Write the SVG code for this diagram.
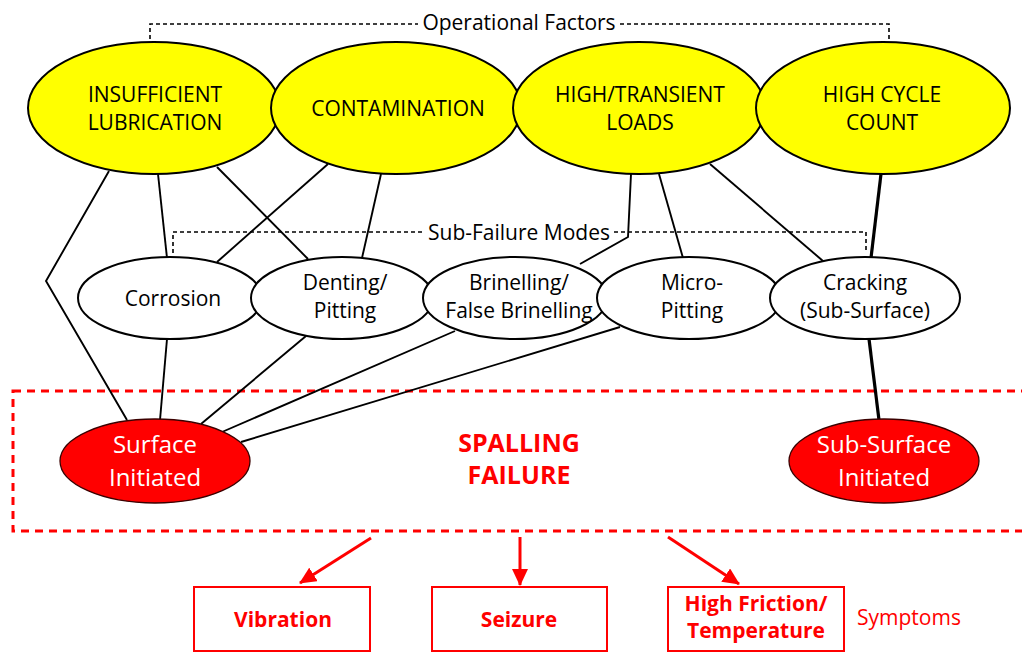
<svg xmlns="http://www.w3.org/2000/svg" width="1022" height="652" viewBox="0 0 1022 652">
<style>
  .factor { fill: #ffff00; stroke: #000; stroke-width: 2; }
  .mode { fill: #fff; stroke: #000; stroke-width: 2; }
  .init { fill: #ff0000; stroke: #3a0000; stroke-width: 1.3; }
  .lbl { font-family: "Open Sans", "Liberation Sans", sans-serif; font-size: 21px; fill: #000; text-anchor: middle; }
  .wlbl { font-family: "Open Sans", "Liberation Sans", sans-serif; font-size: 24px; fill: #fff; text-anchor: middle; }
  .rb { font-family: "Open Sans", "Liberation Sans", sans-serif; font-weight: bold; fill: #ff0000; text-anchor: middle; }
  .conn { stroke: #000; stroke-width: 1.9; fill: none; }
  .thick { stroke: #000; stroke-width: 3.2; fill: none; }
  .grp { stroke: #000; stroke-width: 1.6; fill: none; stroke-dasharray: 4 3; }
  .box { fill: #fff; stroke: #ff0000; stroke-width: 2; }
  .arrow { stroke: #ff0000; stroke-width: 3; fill: none; }
</style>
<defs>
  <marker id="ah" markerUnits="userSpaceOnUse" markerWidth="17" markerHeight="16" refX="16" refY="8" orient="auto">
    <path d="M0,0 L17,8 L0,16 z" fill="#ff0000"/>
  </marker>
</defs>
<rect width="1022" height="652" fill="#fff"/>

<!-- Spalling failure region -->
<g id="spalling-region">
  <rect x="13" y="391" width="1030" height="140" fill="none" stroke="#ff0000" stroke-width="3" stroke-dasharray="8 6"/>
  <text class="rb" x="519" y="452" font-size="25">SPALLING</text>
  <text class="rb" x="519" y="484" font-size="25">FAILURE</text>
</g>

<!-- Group labels -->
<g id="group-operational">
  <polyline class="grp" points="150,39 150,24 418,24"/>
  <polyline class="grp" points="620,24 889,24 889,39"/>
  <text class="lbl" x="519" y="30">Operational Factors</text>
</g>
<g id="group-subfailure">
  <polyline class="grp" points="173,253 173,232 424,232"/>
  <polyline class="grp" points="614,232 866,232 866,253"/>
  <text class="lbl" x="519" y="240">Sub-Failure Modes</text>
</g>

<!-- Connectors -->
<g id="connectors">
  <polyline class="conn" points="109,171 46,281 127,420"/>
  <line class="conn" x1="158" y1="174" x2="167" y2="258"/>
  <line class="conn" x1="217" y1="167" x2="308" y2="259"/>
  <line class="conn" x1="328" y1="164" x2="217" y2="262"/>
  <line class="conn" x1="381" y1="174" x2="362" y2="258"/>
  <polyline class="conn" points="631,174 628,237 580,264"/>
  <line class="conn" x1="659" y1="174" x2="683" y2="258"/>
  <line class="conn" x1="710" y1="164" x2="823" y2="261"/>
  <line class="thick" x1="881" y1="174" x2="871" y2="258"/>
  <line class="thick" x1="869" y1="339" x2="879" y2="420"/>
  <line class="conn" x1="167" y1="339" x2="160" y2="420"/>
  <line class="conn" x1="306" y1="336" x2="201" y2="424"/>
  <line class="conn" x1="455" y1="331" x2="222" y2="432"/>
  <line class="conn" x1="620" y1="327" x2="241" y2="442"/>
  <line class="arrow" x1="371" y1="538" x2="300" y2="583" marker-end="url(#ah)"/>
  <line class="arrow" x1="520" y1="537" x2="520" y2="585" marker-end="url(#ah)"/>
  <line class="arrow" x1="668" y1="537" x2="739" y2="584" marker-end="url(#ah)"/>
</g>

<!-- Operational factors -->
<g id="insufficient-lubrication">
  <ellipse class="factor" cx="154" cy="108" rx="126" ry="66"/>
  <text class="lbl" x="155" y="102">INSUFFICIENT</text>
  <text class="lbl" x="155" y="130">LUBRICATION</text>
</g>
<g id="contamination">
  <ellipse class="factor" cx="396" cy="108" rx="125" ry="66"/>
  <text class="lbl" x="398" y="116">CONTAMINATION</text>
</g>
<g id="high-transient-loads">
  <ellipse class="factor" cx="639" cy="108" rx="126" ry="66"/>
  <text class="lbl" x="640" y="102">HIGH/TRANSIENT</text>
  <text class="lbl" x="640" y="130">LOADS</text>
</g>
<g id="high-cycle-count">
  <ellipse class="factor" cx="883" cy="108" rx="127" ry="66"/>
  <text class="lbl" x="882" y="102">HIGH CYCLE</text>
  <text class="lbl" x="882" y="130">COUNT</text>
</g>

<!-- Sub-failure modes -->
<g id="corrosion">
  <ellipse class="mode" cx="170" cy="298" rx="92" ry="41"/>
  <text class="lbl" x="173" y="306">Corrosion</text>
</g>
<g id="denting-pitting">
  <ellipse class="mode" cx="342" cy="298" rx="91" ry="41"/>
  <text class="lbl" x="345" y="290">Denting/</text>
  <text class="lbl" x="345" y="318">Pitting</text>
</g>
<g id="brinelling">
  <ellipse class="mode" cx="515" cy="298" rx="92" ry="41"/>
  <text class="lbl" x="519" y="290">Brinelling/</text>
  <text class="lbl" x="519" y="318">False Brinelling</text>
</g>
<g id="micro-pitting">
  <ellipse class="mode" cx="689" cy="298" rx="92" ry="41"/>
  <text class="lbl" x="692" y="290">Micro-</text>
  <text class="lbl" x="692" y="318">Pitting</text>
</g>
<g id="cracking">
  <ellipse class="mode" cx="865" cy="298" rx="95" ry="41"/>
  <text class="lbl" x="865" y="290">Cracking</text>
  <text class="lbl" x="865" y="318">(Sub-Surface)</text>
</g>

<!-- Initiation -->
<g id="surface-initiated">
  <ellipse class="init" cx="155" cy="461" rx="95" ry="42"/>
  <text class="wlbl" x="155" y="453">Surface</text>
  <text class="wlbl" x="155" y="486">Initiated</text>
</g>
<g id="sub-surface-initiated">
  <ellipse class="init" cx="884" cy="461" rx="95" ry="42"/>
  <text class="wlbl" x="884" y="453">Sub-Surface</text>
  <text class="wlbl" x="884" y="486">Initiated</text>
</g>

<!-- Symptoms -->
<g id="vibration">
  <rect class="box" x="194" y="587" width="176" height="64"/>
  <text class="rb" x="283" y="627" font-size="21">Vibration</text>
</g>
<g id="seizure">
  <rect class="box" x="432" y="587" width="175" height="64"/>
  <text class="rb" x="519" y="627" font-size="21">Seizure</text>
</g>
<g id="high-friction">
  <rect class="box" x="668" y="587" width="176" height="64"/>
  <text class="rb" x="756" y="611" font-size="21">High Friction/</text>
  <text class="rb" x="756" y="638" font-size="21">Temperature</text>
</g>
<g id="symptoms-label">
  <text x="857" y="625" font-family="'Open Sans', 'Liberation Sans', sans-serif" font-size="21" fill="#ff0000">Symptoms</text>
</g>
</svg>
